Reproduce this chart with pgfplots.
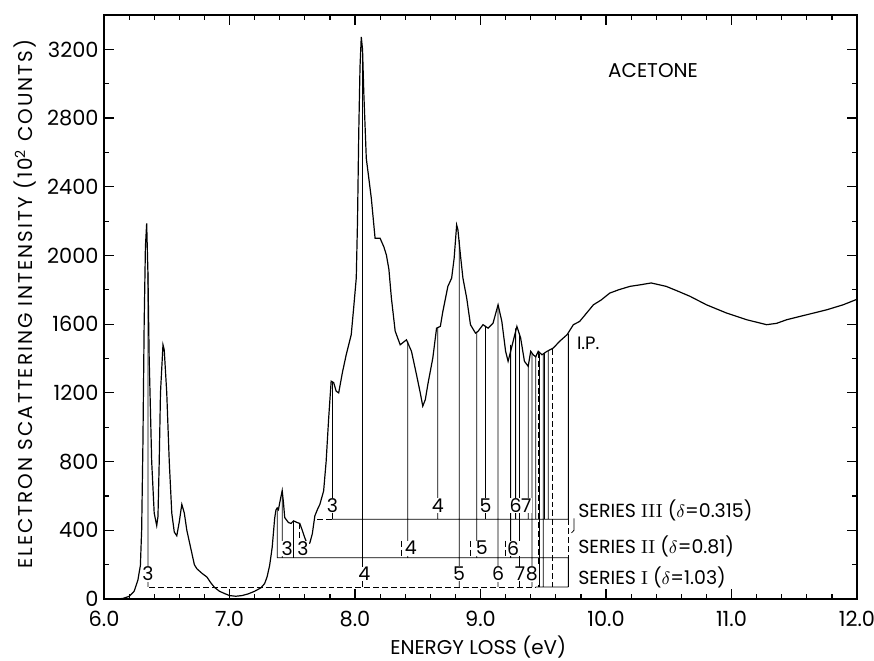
\documentclass[border=0pt]{standalone}
\usepackage{fontspec}
\setsansfont{Poppins}
\newfontfamily\widefont{Poppins}[LetterSpace=10]
\renewcommand{\familydefault}{\sfdefault}
\usepackage{pgfplots}
\pgfplotsset{compat=1.18}
\tikzset{numlab/.style={fill=white, inner sep=0.3pt, font=\fontsize{9.5}{10}\selectfont}}

\pgfplotstableread{
E I
6.00 0
6.10 0
6.15 3
6.20 15
6.24 45
6.27 110
6.29 196
6.30 400
6.31 900
6.32 1600
6.33 2050
6.34 2187
6.35 1900
6.36 1400
6.38 800
6.40 500
6.42 427
6.43 480
6.44 800
6.45 1200
6.47 1480
6.48 1450
6.50 1200
6.52 800
6.54 500
6.56 390
6.58 368
6.60 450
6.62 551
6.64 500
6.66 400
6.69 300
6.72 200
6.74 176
6.78 150
6.82 128
6.85 95
6.88 68
6.92 45
6.96 32
7.00 20
7.05 16
7.10 20
7.15 30
7.20 45
7.25 65
7.28 90
7.30 130
7.32 196
7.34 300
7.36 470
7.37 518
7.38 530
7.39 520
7.40 560
7.42 631
7.43 560
7.44 474
7.47 445
7.49 440
7.51 455
7.54 445
7.56 440
7.58 400
7.60 356
7.62 320
7.64 326
7.66 380
7.68 484
7.70 520
7.72 551
7.75 629
7.77 800
7.79 1050
7.81 1268
7.83 1260
7.85 1210
7.87 1200
7.90 1320
7.93 1422
7.97 1539
7.99 1700
8.01 1868
8.02 2200
8.03 2722
8.04 3100
8.05 3272
8.06 3200
8.07 2950
8.09 2565
8.11 2450
8.13 2333
8.16 2100
8.20 2100
8.23 2050
8.25 2003
8.27 1920
8.29 1752
8.32 1560
8.36 1480
8.41 1509
8.45 1442
8.49 1306
8.52 1200
8.54 1123
8.56 1160
8.58 1248
8.62 1403
8.65 1577
8.68 1587
8.70 1674
8.74 1820
8.77 1868
8.79 1984
8.81 2178
8.82 2150
8.84 2003
8.86 1868
8.89 1752
8.92 1597
8.96 1548
8.98 1558
9.02 1597
9.06 1577
9.10 1606
9.14 1713
9.17 1616
9.20 1442
9.22 1384
9.26 1500
9.29 1587
9.32 1519
9.35 1384
9.38 1355
9.40 1442
9.42 1422
9.44 1410
9.46 1442
9.49 1422
9.53 1442
9.58 1461
9.63 1500
9.69 1539
9.74 1597
9.79 1616
9.84 1660
9.90 1713
9.96 1740
10.03 1781
10.10 1800
10.19 1820
10.28 1830
10.36 1840
10.48 1820
10.58 1790
10.67 1762
10.80 1713
10.96 1665
11.12 1626
11.28 1597
11.36 1605
11.44 1626
11.60 1655
11.76 1684
11.89 1713
12.00 1745
}\spectrum

\begin{document}
\begin{tikzpicture}
\useasboundingbox (-52bp,-31bp) rectangle (385bp,299.5bp);
\begin{axis}[
  scale only axis, width=376.5bp, height=292bp,
  xmin=6, xmax=12, ymin=0, ymax=3400,
  xtick={6,7,...,12}, minor x tick num=4,
  ytick={0,400,...,3200}, minor y tick num=1,
  scaled y ticks=false,
  major tick length=5bp, minor tick length=2.5bp,
  axis line style={line width=0.6pt},
  every tick/.style={line width=0.6pt, black},
  /pgf/number format/assume math mode=true,
  tick label style={font=\fontsize{10.5}{11}\selectfont, inner sep=1pt},
  xticklabel style={yshift=-5bp, /pgf/number format/.cd, fixed, fixed zerofill, precision=1},
  yticklabel style={xshift=-1.5bp, /pgf/number format/.cd, 1000 sep={}},
  xlabel={ENERGY LOSS (eV)},
  ylabel={ELECTRON SCATTERING INTENSITY (10\textsuperscript{2} COUNTS)},
  xlabel style={font=\fontsize{10}{11}\selectfont, inner sep=0pt, at={(axis description cs:0.497,-0.082)}, anchor=center},
  ylabel style={font=\widefont\fontsize{10}{11}\selectfont, inner sep=0pt, at={(axis description cs:-0.105,0.505)}, anchor=center},
  unbounded coords=jump,
  clip=false,
]
% spectrum
\addplot[black, line width=0.6pt] table[x=E, y=I] {\spectrum};

% solid vertical assignment lines
\addplot[black, line width=0.4pt] coordinates {
 (7.82,1265) (7.82,464) (nan,nan)
 (8.66,1580) (8.66,464) (nan,nan)
 (9.04,1590) (9.04,464) (nan,nan)
 (9.28,1575) (9.28,464) (nan,nan)
 (9.38,1355) (9.38,464) (nan,nan)
 (9.44,1410) (9.44,464) (nan,nan)
 (9.51,1430) (9.51,464) (nan,nan)
 (9.54,1445) (9.54,464) (nan,nan)
 (9.70,1545) (9.70,464) (nan,nan)
 (7.38,530) (7.38,240) (nan,nan)
 (7.42,631) (7.42,240) (nan,nan)
 (7.51,455) (7.51,240) (nan,nan)
 (8.42,1500) (8.42,240) (nan,nan)
 (8.97,1555) (8.97,240) (nan,nan)
 (9.24,1480) (9.24,240) (nan,nan)
 (6.35,1900) (6.35,70) (nan,nan)
 (8.06,3200) (8.06,70) (nan,nan)
 (8.83,2090) (8.83,70) (nan,nan)
 (9.14,1713) (9.14,70) (nan,nan)
 (9.31,1550) (9.31,70) (nan,nan)
 (9.41,1430) (9.41,70) (nan,nan)
 (9.47,1430) (9.47,70) (nan,nan)
 (9.50,1425) (9.50,70) (nan,nan)
 (9.70,240) (9.70,70) (nan,nan)
 (7.82,464) (9.70,464) (nan,nan)
 (7.38,240) (9.70,240) (nan,nan)
 (9.44,70) (9.70,70) (nan,nan)
 (9.745,470) (9.745,400) (9.725,385)
};

% dashed lines
\addplot[black, line width=0.4pt, dash pattern=on 3pt off 1.5pt] coordinates {
 (7.70,464) (7.82,464) (nan,nan)
 (6.36,70) (9.44,70) (nan,nan)
 (9.70,464) (9.70,240) (nan,nan)
 (9.46,1440) (9.46,70) (nan,nan)
 (9.57,1455) (9.57,70) (nan,nan)
 (7.555,440) (7.555,300) (nan,nan)
 (8.37,340) (8.37,250) (nan,nan)
 (8.92,340) (8.92,250) (nan,nan)
 (9.195,340) (9.195,250)
};

% quantum number labels
\node[numlab] at (axis cs:7.82,543) {3};
\node[numlab] at (axis cs:8.66,543) {4};
\node[numlab] at (axis cs:9.04,543) {5};
\node[numlab] at (axis cs:9.28,543) {6};
\node[numlab] at (axis cs:9.365,543) {7};

\node[numlab] at (axis cs:7.46,296) {3};
\node[numlab] at (axis cs:7.585,296) {3};
\node[numlab] at (axis cs:8.445,296) {4};
\node[numlab] at (axis cs:9.01,296) {5};
\node[numlab] at (axis cs:9.26,296) {6};

\node[numlab] at (axis cs:6.35,146) {3};
\node[numlab] at (axis cs:8.075,146) {4};
\node[numlab] at (axis cs:8.83,146) {5};
\node[numlab] at (axis cs:9.14,146) {6};
\node[numlab] at (axis cs:9.315,146) {7};
\node[numlab] at (axis cs:9.41,146) {8};

% texts
\node[font=\fontsize{10}{11}\selectfont] at (axis cs:10.375,3074) {ACETONE};
\node[anchor=west, inner sep=1pt, font=\fontsize{9}{10}\selectfont] at (axis cs:9.75,1490) {I.P.};
\node[anchor=west, inner sep=1pt, font=\fontsize{9.5}{10}\selectfont] at (axis cs:9.76,514) {SERIES {\rmfamily III} ($\delta$=0.315)};
\node[anchor=west, inner sep=1pt, font=\fontsize{9.5}{10}\selectfont] at (axis cs:9.76,308) {SERIES {\rmfamily II} ($\delta$=0.81)};
\node[anchor=west, inner sep=1pt, font=\fontsize{9.5}{10}\selectfont] at (axis cs:9.76,128) {SERIES {\rmfamily I} ($\delta$=1.03)};
\end{axis}
\end{tikzpicture}
\end{document}
